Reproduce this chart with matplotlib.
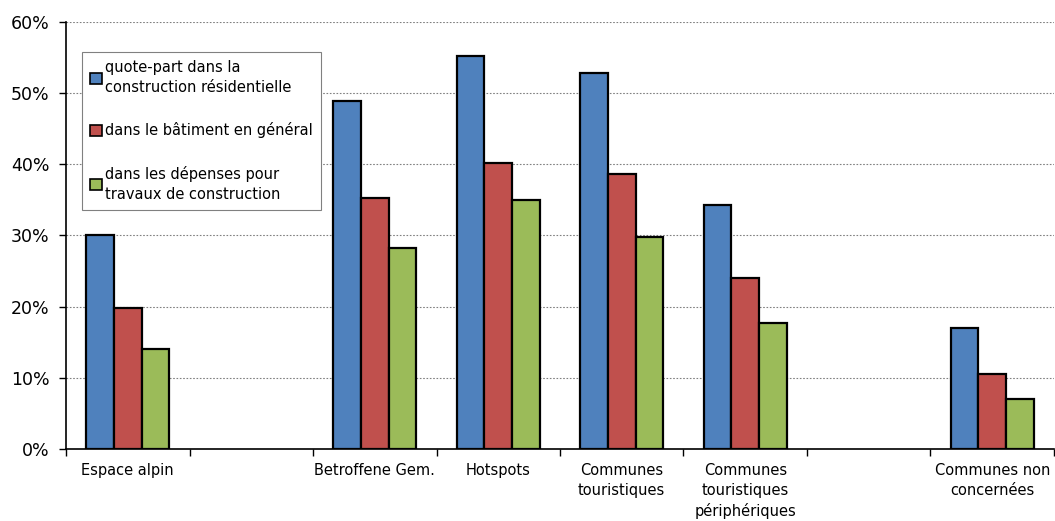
import numpy as np
import matplotlib.pyplot as plt
from matplotlib.ticker import FuncFormatter, FixedLocator

# Catégories (les emplacements vides sont des groupes sans barres)
categories = ["Espace alpin", "", "Betroffene Gem.", "Hotspots", "Communes\ntouristiques",
              "Communes\ntouristiques\npériphériques", "", "Communes non\nconcernées"]

# Valeurs en % (None = emplacement vide)
residentiel = [30.0, None, 48.9, 55.2, 52.8, 34.3, None, 17.0]
batiment = [19.8, None, 35.3, 40.2, 38.6, 24.0, None, 10.5]
depenses = [14.0, None, 28.2, 35.0, 29.8, 17.7, None, 7.0]

series = [
    ("quote-part dans la\nconstruction résidentielle", residentiel, "#4F81BD"),
    ("dans le bâtiment en général", batiment, "#C0504D"),
    ("dans les dépenses pour\ntravaux de construction", depenses, "#9BBB59"),
]

fig = plt.figure(figsize=(10.55, 5.21), dpi=100)
ax = fig.add_axes([0.0626, 0.138, 0.9364, 0.820])

w = 0.224
x = np.arange(len(categories))
for k, (label, vals, col) in enumerate(series):
    xs = [x[i] + (k - 1) * w for i in range(len(vals)) if vals[i] is not None]
    ys = [v for v in vals if v is not None]
    ax.bar(xs, ys, width=w, color=col, edgecolor="black", linewidth=1.6, label=label, zorder=3)

ax.set_xlim(-0.5, len(categories) - 0.5)
ax.set_ylim(0, 60)
ax.set_yticks(range(0, 61, 10))
ax.yaxis.set_major_formatter(FuncFormatter(lambda v, p: f"{v:.0f}%"))
ax.tick_params(axis="y", labelsize=12.5, length=5, width=1, pad=7)
ax.grid(axis="y", color="#808080", linestyle=(0, (1.5, 1.5)), linewidth=0.8, zorder=0)

ax.set_xticks(x)
ax.set_xticklabels(categories, fontsize=10.5, linespacing=1.4)
ax.tick_params(axis="x", which="major", length=0, pad=10)
ax.xaxis.set_minor_locator(FixedLocator(np.arange(-0.5, len(categories), 1.0)))
ax.tick_params(axis="x", which="minor", length=5, width=1)

for s in ["top", "right"]:
    ax.spines[s].set_visible(False)
for s in ["left", "bottom"]:
    ax.spines[s].set_linewidth(1.2)

leg = ax.legend(loc="upper left", bbox_to_anchor=(0.016, 0.930), fontsize=10.5,
                frameon=True, fancybox=False, edgecolor="#808080", framealpha=1,
                handlelength=0.8, handleheight=0.8, handletextpad=0.25,
                labelspacing=1.9, borderpad=0.55, borderaxespad=0)
leg.get_frame().set_linewidth(0.8)
for t in leg.get_texts():
    t.set_linespacing(1.4)
for h in leg.legend_handles:
    h.set_linewidth(1.2)

fig.savefig("out.png", dpi=100)
